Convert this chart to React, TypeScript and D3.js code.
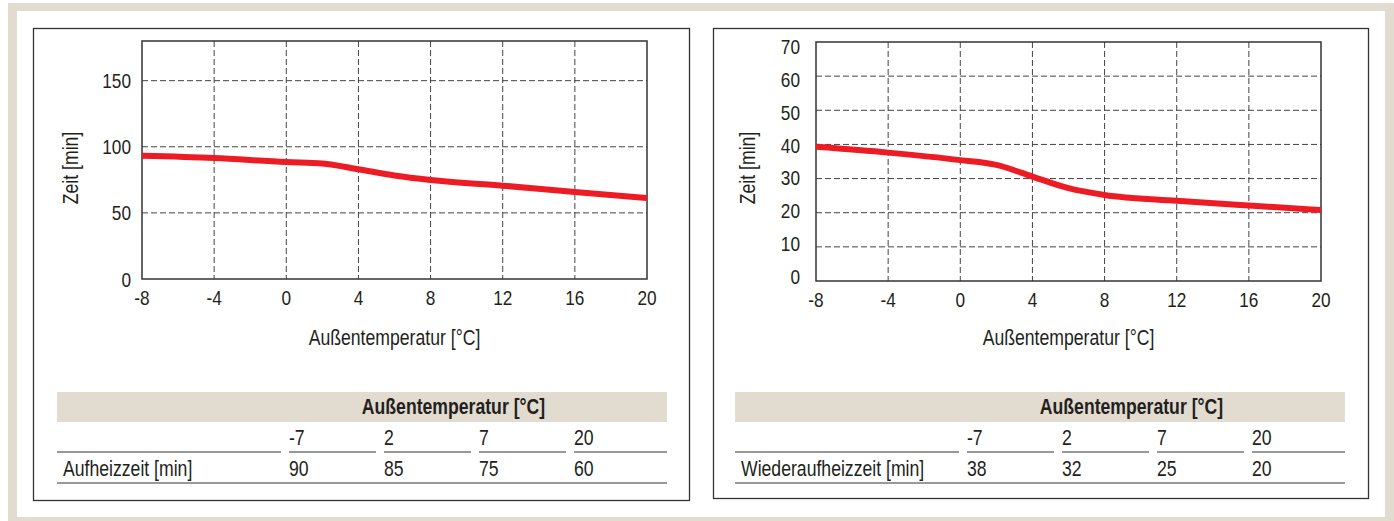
import React from "react";
import * as d3 from "d3";

// ---------- data ----------
const xTicks = [-8, -4, 0, 4, 8, 12, 16, 20];
const leftYTicks = [0, 50, 100, 150];
const rightYTicks = [0, 10, 20, 30, 40, 50, 60, 70];

const leftCurveX = [-8, -4, 0, 2, 4, 6, 8, 12, 16, 20];
const leftCurveY = [93.2, 91.5, 88.4, 87.4, 83, 78.3, 74.9, 70.6, 65.8, 61.3];

const rightCurveX = [-8, -4, 0, 2, 4, 6, 8, 12, 16, 20];
const rightCurveY = [39.3, 37.6, 35.4, 34.0, 30.6, 27.2, 25.2, 23.5, 22.1, 20.8];

const tableTemps = ["-7", "2", "7", "20"];
const leftTableValues = ["90", "85", "75", "60"];
const rightTableValues = ["38", "32", "25", "20"];
const leftRowLabel = "Aufheizzeit [min]";
const rightRowLabel = "Wiederaufheizzeit [min]";
const xTitle = "Außentemperatur [°C]";
const yTitle = "Zeit [min]";
const tableHeader = "Außentemperatur [°C]";

// ---------- style ----------
const FONT = "'Liberation Sans', Arial, sans-serif";
const TXT = "#231f20";
const BEIGE = "#e2dbd0";
const RED = "#ed1c24";
const SX = 0.82; // condensed look

type TProps = {
  x: number;
  y: number;
  size?: number;
  anchor?: "start" | "middle" | "end";
  bold?: boolean;
  rotate?: number;
  children: React.ReactNode;
};

function T({ x, y, size = 21.5, anchor = "start", bold = false, rotate = 0, children }: TProps) {
  return (
    <text
      transform={`translate(${x},${y}) rotate(${rotate}) scale(${SX},1)`}
      textAnchor={anchor}
      fontSize={size}
      fontWeight={bold ? "bold" : "normal"}
      fontFamily={FONT}
      fill={TXT}
    >
      {children}
    </text>
  );
}

type ChartProps = {
  panel: { x: number; y: number; w: number; h: number };
  plot: { x0: number; x1: number; y0: number; y1: number };
  yMax: number;
  yTicks: number[];
  labelRange?: [number, number];
  labelRight: number;
  yTitleX: number;
  cx: number[];
  cy: number[];
  table: { x: number; w: number };
  rowLabel: string;
  values: string[];
};

function Chart(p: ChartProps) {
  const x = d3.scaleLinear().domain([-8, 20]).range([p.plot.x0, p.plot.x1]);
  const y = d3.scaleLinear().domain([0, p.yMax]).range([p.plot.y1, p.plot.y0]);
  const yl = p.labelRange
    ? d3.scaleLinear().domain([0, p.yMax]).range(p.labelRange)
    : y;
  const line = d3
    .line<number>()
    .x((_, i) => x(p.cx[i]))
    .y((d) => y(d))
    .curve(d3.curveMonotoneX);
  const pw = p.plot.x1 - p.plot.x0;
  const ph = p.plot.y1 - p.plot.y0;

  const tx = p.table.x;
  const col = d3.scaleBand<string>().domain(tableTemps).range([tx + 232, tx + 232 + 4 * 95]);
  const tEnd = tx + p.table.w;

  return (
    <g>
      <rect x={p.panel.x} y={p.panel.y} width={p.panel.w} height={p.panel.h} fill="#fff" stroke="#333" strokeWidth={1.3} />
      {/* grid */}
      {xTicks.slice(1, -1).map((t) => (
        <line key={"gx" + t} x1={x(t)} x2={x(t)} y1={p.plot.y0} y2={p.plot.y1} stroke="#444" strokeWidth={1} strokeDasharray="6,3" />
      ))}
      {p.yTicks.filter((t) => t > 0 && t < p.yMax).map((t) => (
        <line key={"gy" + t} x1={p.plot.x0} x2={p.plot.x1} y1={y(t)} y2={y(t)} stroke="#444" strokeWidth={1} strokeDasharray="6,3" />
      ))}
      <rect x={p.plot.x0} y={p.plot.y0} width={pw} height={ph} fill="none" stroke="#333" strokeWidth={1.5} />
      {/* curve */}
      <path d={line(p.cy) || ""} fill="none" stroke={RED} strokeWidth={6} strokeLinecap="butt" strokeLinejoin="round" />
      {/* tick labels */}
      {xTicks.map((t) => (
        <T key={"xl" + t} x={x(t)} y={p.plot.y1 + 26} size={21} anchor="middle">
          {t}
        </T>
      ))}
      {p.yTicks.map((t) => (
        <T key={"yl" + t} x={p.labelRight} y={yl(t) + 7.5} size={21} anchor="end">
          {t}
        </T>
      ))}
      <T x={(p.plot.x0 + p.plot.x1) / 2} y={345} anchor="middle">
        {xTitle}
      </T>
      <T x={p.yTitleX} y={168} anchor="middle" rotate={-90}>
        {yTitle}
      </T>
      {/* table */}
      <rect x={tx} y={392} width={p.table.w} height={30} fill={BEIGE} />
      <T x={tx + 396.5} y={414} anchor="middle" bold>
        {tableHeader}
      </T>
      <line x1={tx} x2={tx + 224} y1={452} y2={452} stroke="#777" strokeWidth={1.5} />
      {tableTemps.map((t, i) => (
        <g key={"tc" + t}>
          <line x1={col(t)!} x2={i === tableTemps.length - 1 ? tEnd : col(t)! + col.bandwidth() - 8} y1={452} y2={452} stroke="#777" strokeWidth={1.5} />
          <T x={col(t)!} y={445}>{t}</T>
          <T x={col(t)!} y={476}>{p.values[i]}</T>
        </g>
      ))}
      <T x={tx + 6} y={476}>{p.rowLabel}</T>
      <line x1={tx} x2={tEnd} y1={483} y2={483} stroke="#777" strokeWidth={1.5} />
    </g>
  );
}

export default function App() {
  return (
    <svg width={1394} height={521} style={{ position: "absolute", left: 0, top: 0, background: "#fff" }}>
      <rect x={8} y={3} width={1386} height={518} fill={BEIGE} />
      <rect x={17} y={11} width={1368} height={506} fill="#fff" />
      <Chart
        panel={{ x: 33.5, y: 28.5, w: 656, h: 472 }}
        plot={{ x0: 142, x1: 647, y0: 41, y1: 279 }}
        yMax={180}
        yTicks={leftYTicks}
        labelRight={131}
        yTitleX={78}
        cx={leftCurveX}
        cy={leftCurveY}
        table={{ x: 57, w: 610 }}
        rowLabel={leftRowLabel}
        values={leftTableValues}
      />
      <Chart
        panel={{ x: 713.5, y: 28.5, w: 655, h: 470 }}
        plot={{ x0: 816, x1: 1321, y0: 42, y1: 281 }}
        yMax={70}
        yTicks={rightYTicks}
        labelRange={[276.7, 46.3]}
        labelRight={800}
        yTitleX={755}
        cx={rightCurveX}
        cy={rightCurveY}
        table={{ x: 735, w: 610 }}
        rowLabel={rightRowLabel}
        values={rightTableValues}
      />
    </svg>
  );
}
